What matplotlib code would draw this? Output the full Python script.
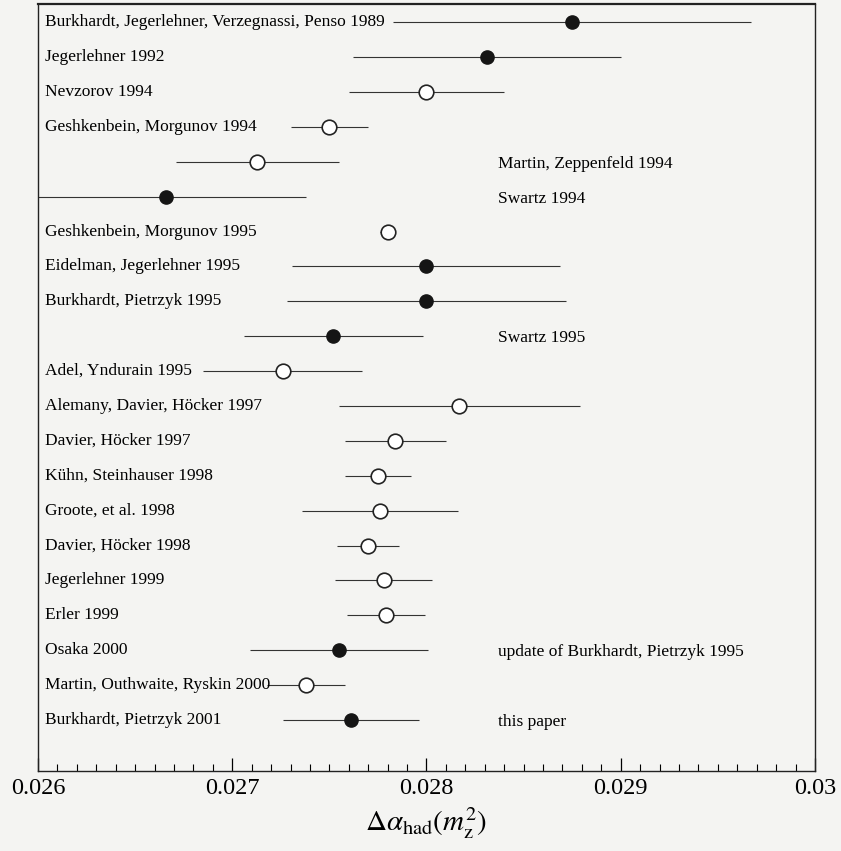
import matplotlib
matplotlib.use("Agg")
import matplotlib.pyplot as plt
from matplotlib.ticker import MultipleLocator, FixedLocator, FixedFormatter
import numpy as np

plt.rcParams['font.family'] = ['Liberation Serif', 'DejaVu Serif']
plt.rcParams['mathtext.fontset'] = 'stix'

left_labels = [
    "Burkhardt, Jegerlehner, Verzegnassi, Penso 1989",
    "Jegerlehner 1992",
    "Nevzorov 1994",
    "Geshkenbein, Morgunov 1994",
    "",
    "",
    "Geshkenbein, Morgunov 1995",
    "Eidelman, Jegerlehner 1995",
    "Burkhardt, Pietrzyk 1995",
    "",
    "Adel, Yndurain 1995",
    "Alemany, Davier, Höcker 1997",
    "Davier, Höcker 1997",
    "Kühn, Steinhauser 1998",
    "Groote, et al. 1998",
    "Davier, Höcker 1998",
    "Jegerlehner 1999",
    "Erler 1999",
    "Osaka 2000",
    "Martin, Outhwaite, Ryskin 2000",
    "Burkhardt, Pietrzyk 2001",
]
right_labels = {
    4: "Martin, Zeppenfeld 1994",
    5: "Swartz 1994",
    9: "Swartz 1995",
    18: "update of Burkhardt, Pietrzyk 1995",
    20: "this paper",
}
values = [0.02875, 0.02831, 0.02800, 0.02750, 0.02713, 0.02666, 0.02780,
          0.02800, 0.02800, 0.02752, 0.02726, 0.02817, 0.02784, 0.02775,
          0.02776, 0.02770, 0.02778, 0.02779, 0.02755, 0.02738, 0.02761]
errors = [0.00092, 0.00069, 0.00040, 0.00020, 0.00042, 0.00072, 0.00004,
          0.00069, 0.00072, 0.00046, 0.00041, 0.00062, 0.00026, 0.00017,
          0.00040, 0.00016, 0.00025, 0.00020, 0.00046, 0.00020, 0.00035]
filled = [True, True, False, False, False, True, False,
          True, True, True, False, False, False, False,
          False, False, False, False, True, False, True]

xticks = [0.026, 0.027, 0.028, 0.029, 0.030]
xticklabels = ["0.026", "0.027", "0.028", "0.029", "0.03"]

bg = '#f4f4f2'
fig = plt.figure(figsize=(8.41, 8.51), dpi=100, facecolor=bg)
ax = fig.add_axes([0.0452, 0.094, 0.9238, 0.9013], facecolor=bg)

rows = np.arange(len(values))
for i in rows:
    ax.errorbar(values[i], i, xerr=errors[i], fmt='none', ecolor='#333333',
                elinewidth=0.8, capsize=0, zorder=2)
    if filled[i]:
        ax.plot(values[i], i, 'o', ms=9.5, mfc='#151515', mec='#151515',
                mew=1.0, zorder=3)
    else:
        ax.plot(values[i], i, 'o', ms=10.5, mfc='white', mec='#222222',
                mew=1.2, zorder=3)

for i, lab in enumerate(left_labels):
    if lab:
        ax.text(0.009, i, lab, transform=ax.get_yaxis_transform(),
                ha='left', va='center', fontsize=12.5, color='#000000')
for i, lab in right_labels.items():
    ax.text(0.02837, i + 0.06, lab, ha='left', va='center', fontsize=12.5,
            color='#000000')

ax.set_xlim(0.026, 0.030)
ax.set_ylim(21.46, -0.52)
ax.xaxis.set_major_locator(FixedLocator(xticks))
ax.xaxis.set_major_formatter(FixedFormatter(xticklabels))
ax.xaxis.set_minor_locator(MultipleLocator(0.0001))
ax.tick_params(axis='x', which='major', direction='in', length=9.5,
               width=0.9, labelsize=17.5, pad=5, top=False)
ax.tick_params(axis='x', which='minor', direction='in', length=5,
               width=0.8, top=False)
ax.tick_params(axis='y', left=False, labelleft=False)
for s in ax.spines.values():
    s.set_linewidth(1.0)
    s.set_color('#222222')
ax.spines['top'].set_linewidth(1.6)

ax.set_xlabel(r'$\Delta\alpha_{\mathrm{had}}(m_{\mathrm{z}}^{2})$', fontsize=21,
              labelpad=5)

fig.savefig("out.png", dpi=100, facecolor=bg)
